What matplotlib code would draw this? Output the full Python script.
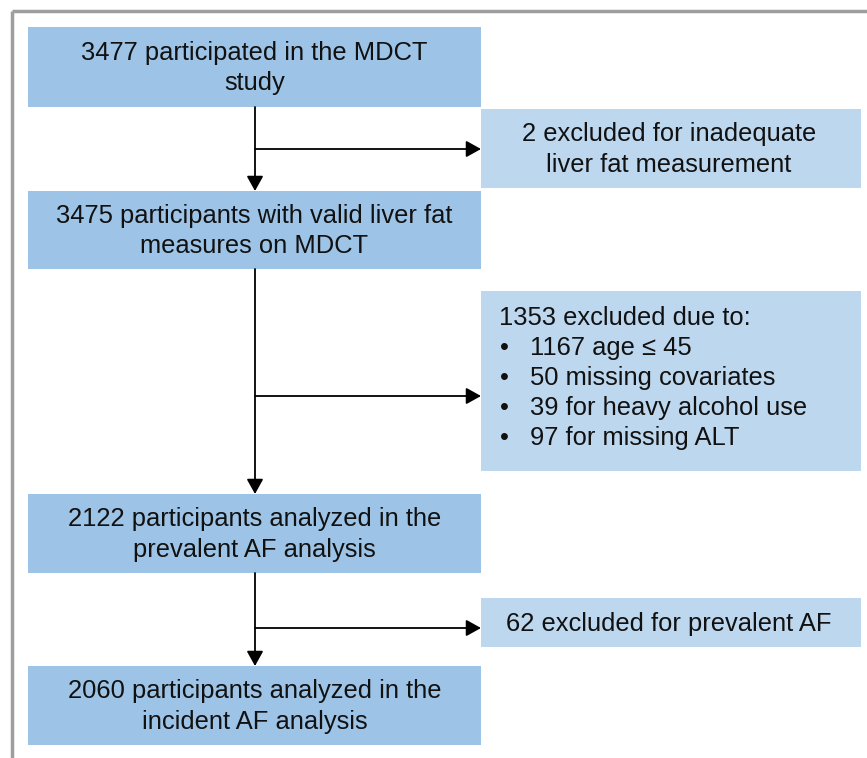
import matplotlib.pyplot as plt
from matplotlib.patches import Rectangle

plt.rcParams['font.family'] = ['Liberation Sans', 'DejaVu Sans']

# flow chart content
main_labels = [
    "3477 participated in the MDCT\nstudy",
    "3475 participants with valid liver fat\nmeasures on MDCT",
    "2122 participants analyzed in the\nprevalent AF analysis",
    "2060 participants analyzed in the\nincident AF analysis",
]
excl_labels = [
    "2 excluded for inadequate\nliver fat measurement",
    None,  # bullet list box, drawn below
    "62 excluded for prevalent AF",
]
excl_head = "1353 excluded due to:"
excl_items = ["1167 age \u2264 45", "50 missing covariates",
              "39 for heavy alcohol use", "97 for missing ALT"]

# layout in pixels (y downwards)
main_boxes = [(28, 27, 107), (28, 191, 269), (28, 494, 573), (28, 666, 745)]
main_right = 481
excl_boxes = [(481, 109, 188), (481, 291, 471), (481, 598, 647)]
excl_right = 861
arrow_y = [149, 396, 628]
trunk_x = 255

main_col = "#9DC3E6"
excl_col = "#BDD7EE"
fs = 18.4

fig = plt.figure(figsize=(8.67, 7.58), dpi=100)
ax = fig.add_axes([0, 0, 1, 1])
ax.set_xlim(0, 867)
ax.set_ylim(758, 0)
ax.axis("off")

# outer gray frame (top and left visible)
ax.plot([12, 867], [11, 11], color="#9E9E9E", lw=2.5, solid_capstyle="butt")
ax.plot([12, 12], [11, 758], color="#9E9E9E", lw=2.5, solid_capstyle="butt")

for (x0, y0, y1), lab in zip(main_boxes, main_labels):
    ax.add_patch(Rectangle((x0, y0), main_right - x0, y1 - y0,
                           facecolor=main_col, edgecolor="none"))
    ax.text((x0 + main_right) / 2, (y0 + y1) / 2 + 1, lab, ha="center", va="center",
            fontsize=fs, linespacing=1.36, color="#111111")

for (x0, y0, y1), lab in zip(excl_boxes, excl_labels):
    ax.add_patch(Rectangle((x0, y0), excl_right - x0, y1 - y0,
                           facecolor=excl_col, edgecolor="none"))
    if lab is not None:
        ax.text((x0 + excl_right) / 2 - 2, (y0 + y1) / 2 + 1, lab, ha="center", va="center",
                fontsize=fs, linespacing=1.36, color="#111111")

# bullet list in the second exclusion box
ax.text(499, 318, excl_head, ha="left", va="center", fontsize=fs, color="#111111")
for i, item in enumerate(excl_items):
    y = 348 + 30 * i
    ax.text(500, y, "\u2022", ha="left", va="center", fontsize=fs, color="#111111")
    ax.text(530, y, item, ha="left", va="center", fontsize=fs, color="#111111")

arrow_style = dict(arrowstyle="-|>,head_length=0.9,head_width=0.5",
                   color="black", lw=1.3, shrinkA=0, shrinkB=0)

# vertical arrows between main boxes
for (_, _, y_bot), (_, y_top, _) in zip(main_boxes[:-1], main_boxes[1:]):
    ax.annotate("", xy=(trunk_x, y_top), xytext=(trunk_x, y_bot), arrowprops=arrow_style)

# horizontal arrows to exclusion boxes
for y, (x0, _, _) in zip(arrow_y, excl_boxes):
    ax.annotate("", xy=(x0, y), xytext=(trunk_x, y), arrowprops=arrow_style)

fig.savefig("out.png", dpi=100)
